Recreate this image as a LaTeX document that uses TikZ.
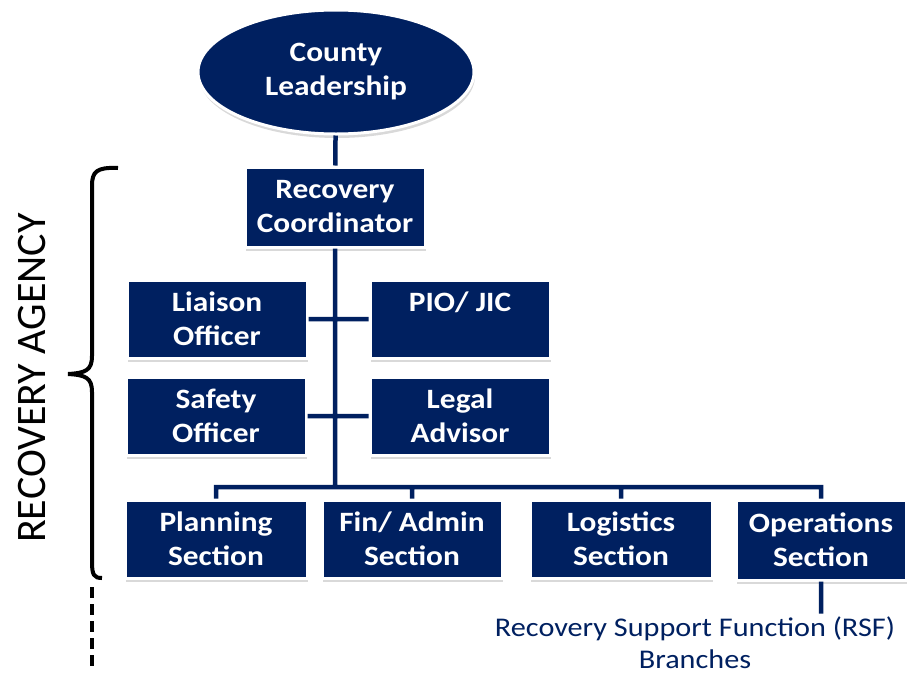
\documentclass[tikz,border=0pt]{standalone}
\usepackage{fontspec}
\setmainfont{Carlito}
\newfontfamily\widefont[FakeStretch=1.12]{Carlito}
\usepackage{tikz}
\usetikzlibrary{positioning,shapes.geometric,shadows}
\definecolor{navy}{RGB}{0,32,96}

\begin{document}
\begin{tikzpicture}[
    x=1pt, y=-1pt,
    unit/.style={rectangle, fill=navy, draw=white, line width=3pt, text=white,
        font=\widefont\fontsize{28}{34}\selectfont\bfseries, align=center, inner sep=0pt,
        minimum width=180pt, minimum height=80pt,
        drop shadow={shadow xshift=1pt, shadow yshift=-4pt, opacity=.3}},
    head/.style={unit, ellipse, minimum width=276pt, minimum height=124pt},
    link/.style={draw=navy, line width=4.5pt}
]
    \useasboundingbox (0,0) rectangle (912,675);
    % Leadership and coordinator:
    \node[head] (lead) at (336,72) {County\\Leadership};
    \node[unit] (coord) at (335,207) {Recovery\\Coordinator};
    % Command staff:
    \node[unit, minimum height=78pt] (liaison) at (217,319) {Liaison\\Officer};
    \node[unit, minimum height=78pt] (pio) at (460,319) {PIO/ JIC\\\mbox{}};
    \node[unit, minimum height=78pt] (safety) at (216,416) {Safety\\Officer};
    \node[unit, minimum height=78pt] (legal) at (460,416) {Legal\\Advisor};
    % General staff:
    \node[unit, minimum width=182pt, minimum height=78pt] (plan) at (216,539) {Planning\\Section};
    \node[unit, minimum height=78pt] (fin) at (412,539) {Fin/ Admin\\Section};
    \node[unit, minimum width=182pt, minimum height=78pt] (logi) at (621,539) {Logistics\\Section};
    \node[unit, minimum width=170pt] (ops) at (821,540) {Operations\\Section};
    \node[text=navy, font=\widefont\fontsize{27}{32}\selectfont, align=center, anchor=north, inner sep=0pt] (rsf) at (695,617) {Recovery Support Function (RSF)\\Branches};
    \coordinate (bus) at (335,487);

    \path[link]
        (lead) -- (coord)
        (coord) -- (bus)
        (liaison) -- (pio)
        (safety) -- (legal)
        (plan.north) |- (bus) -| (ops.north)
        (fin.north) -- (fin.north |- bus)
        (logi.north) -- (logi.north |- bus)
        (ops.south) -- ++(0,32);

    % Bracket for the agency:
    \draw[line width=4pt] (118,168) .. controls (96,167) and (92,172) .. (92,186) -- (92,356)
        .. controls (92,370) and (86,373) .. (68,374) .. controls (86,375) and (92,378) .. (92,392)
        -- (92,562) .. controls (92,575) and (94,578) .. (102,578);
    \draw[line width=4.5pt, dash pattern=on 11pt off 6pt] (92,587) -- (92,672);
    \node[rotate=90, font=\fontsize{42}{46}\selectfont, inner sep=0pt] (agency) at (32,378) {RECOVERY AGENCY};
\end{tikzpicture}
\end{document}
